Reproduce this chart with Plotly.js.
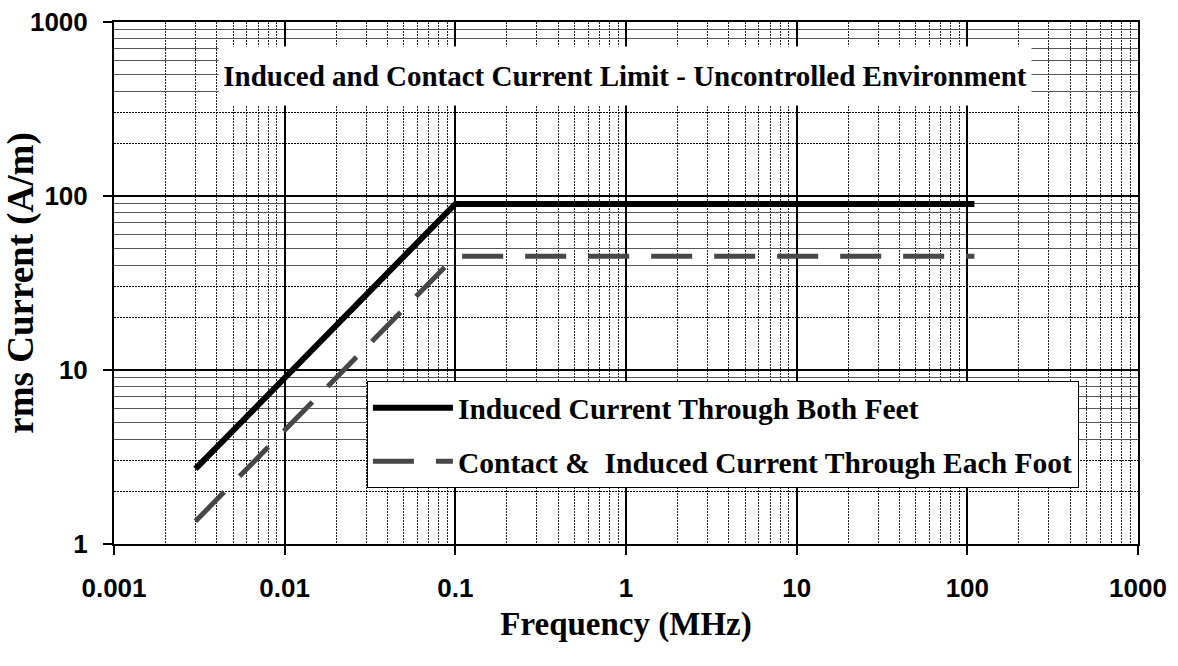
<!DOCTYPE html>
<html>
<head>
<meta charset="utf-8">
<script src="https://cdn.plot.ly/plotly-3.0.1.min.js"></script>
<style>html,body{margin:0;padding:0;background:#fff;}#chart{width:1178px;height:666px;}</style>
</head>
<body>
<div id="chart"></div>
<script>
// ---- data ----
const freqBoth = [0.003, 0.1, 110];
const currentBoth = [2.7, 90, 90];
const freqEach = [0.003, 0.1, 110];
const currentEach = [1.35, 45, 45];
const nameBoth = "Induced Current Through Both Feet";
const nameEach = "Contact &  Induced Current Through Each Foot";
const chartTitle = "Induced and Contact Current Limit - Uncontrolled Environment";
const xTickVals = [0.001, 0.01, 0.1, 1, 10, 100, 1000];
const xTickText = ["0.001", "0.01", "0.1", "1", "10", "100", "1000"];
const yTickVals = [1, 10, 100, 1000];
const yTickText = ["1", "10", "100", "1000"];
const xMinorVals = [];
xTickVals.slice(0, -1).forEach(d => { for (let k = 2; k <= 9; k++) xMinorVals.push(d * k); });
const yMinorSolid = [];
const yMinorDotted = [];
yTickVals.slice(0, -1).forEach(d => {
  for (let k = 4; k <= 9; k++) yMinorSolid.push(d * k);
  yMinorDotted.push(d * 2, d * 3);
});

const serif = "Liberation Serif, Times New Roman, serif";
const sans = "Liberation Sans, Arial, sans-serif";

const traces = [
  {
    x: freqBoth, y: currentBoth, type: "scatter", mode: "lines", name: nameBoth,
    line: {color: "#000000", width: 6}, legendgroup: "a"
  },
  {
    x: freqEach, y: currentEach, type: "scatter", mode: "lines", name: nameEach,
    line: {color: "#474747", width: 5, dash: "41px,22px"}, legendgroup: "b"
  },
  {
    x: [], y: [], type: "scatter", mode: "lines", yaxis: "y2", showlegend: false, hoverinfo: "skip"
  }
];

const layout = {
  width: 1178, height: 666,
  margin: {l: 114, r: 40, t: 22, b: 122},
  paper_bgcolor: "#ffffff", plot_bgcolor: "#ffffff",
  showlegend: true,
  xaxis: {
    type: "log", range: [-3, 3],
    tickmode: "array", tickvals: xTickVals, ticktext: xTickText,
    tickfont: {family: sans, size: 26, color: "#000", weight: 700},
    ticks: "outside", ticklen: 9, tickwidth: 2, tickcolor: "#000",
    ticklabelstandoff: 11,
    showline: true, linecolor: "#000", linewidth: 2, mirror: true,
    showgrid: true, gridcolor: "#000", gridwidth: 2,
    minor: {tickmode: "array", tickvals: xMinorVals, showgrid: true, gridcolor: "#222", gridwidth: 1, griddash: "2px,1px", ticks: ""},
    zeroline: false,
    title: {text: "Frequency (MHz)", font: {family: serif, size: 33, color: "#000", weight: 700}, standoff: 10}
  },
  yaxis: {
    type: "log", range: [0, 3],
    tickmode: "array", tickvals: yTickVals, ticktext: yTickText,
    tickfont: {family: sans, size: 26, color: "#000", weight: 700},
    ticks: "outside", ticklen: 9, tickwidth: 2, tickcolor: "#000",
    ticklabelstandoff: 10,
    showline: true, linecolor: "#000", linewidth: 2, mirror: true,
    showgrid: true, gridcolor: "#000", gridwidth: 1.5,
    minor: {tickmode: "array", tickvals: yMinorSolid, showgrid: true, gridcolor: "#555", gridwidth: 1, ticks: ""},
    zeroline: false,
    title: {text: "rms Current (A/m)", font: {family: serif, size: 37, color: "#000", weight: 700}, standoff: 0}
  },
  yaxis2: {
    type: "log", range: [0, 3], overlaying: "y", anchor: "x", side: "left",
    tickmode: "array", tickvals: yMinorDotted, showticklabels: false, ticks: "",
    showgrid: true, gridcolor: "#000", gridwidth: 1, griddash: "2px,1px",
    showline: false, zeroline: false
  },
  legend: {
    x: 0.247, y: 0.312, xanchor: "left", yanchor: "top",
    bgcolor: "#ffffff", bordercolor: "#000", borderwidth: 1,
    font: {family: serif, size: 29.5, color: "#000", weight: 700},
    itemwidth: 80, tracegroupgap: 12
  },
  annotations: [{
    xref: "paper", yref: "paper", x: 0.499, y: 0.8966, xanchor: "center", yanchor: "middle",
    text: chartTitle, showarrow: false,
    font: {family: serif, size: 29, color: "#000", weight: 700},
    bgcolor: "#ffffff", width: 810, height: 56
  }]
};

Plotly.newPlot("chart", traces, layout, {displayModeBar: false, staticPlot: true});
</script>
</body>
</html>
